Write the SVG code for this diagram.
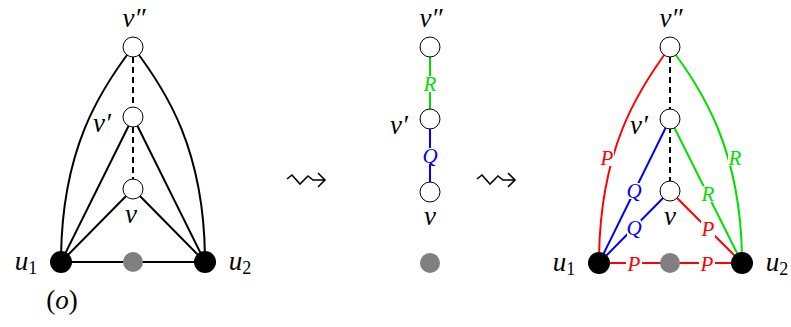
<svg xmlns="http://www.w3.org/2000/svg" width="791" height="327" viewBox="0 0 791 327">
<defs>
<style>
.e{fill:none;stroke-width:2}
.k{stroke:#000}
.r{stroke:#ff0000}
.g{stroke:#00e000}
.b{stroke:#0000ff}
.d{stroke-dasharray:6,4}
.o{fill:#fff;stroke:#000;stroke-width:1}
.f{fill:#000}
.gr{fill:#808080}
.t{font-family:'Liberation Serif',serif;font-style:italic;font-size:27px;fill:#000;text-anchor:middle}
.s{font-family:'Liberation Serif',serif;font-style:italic;font-size:21px;text-anchor:middle}
.bg{fill:#fff}
.sq{fill:none;stroke:#000;stroke-width:1.6}
</style>
</defs>
<g id="connectors">
<path class="e k" d="M61,262 C61,150 100,90 133,47"/>
<path class="e k" d="M205,262 C205,150 166,90 133,47"/>
<path class="e k d" d="M133,47 L133,189"/>
<path class="e k" d="M61,262 L133,117 M61,262 L133,189 M205,262 L133,117 M205,262 L133,189 M61,262 L205,262"/>
<path class="e g" d="M430,47 L430,119"/>
<path class="e b" d="M430,119 L430,192"/>
<path class="e r" d="M599,263 C599,150 638,90 670,47"/>
<path class="e g" d="M742,263 C742,150 702,90 670,47"/>
<path class="e k d" d="M670,47 L670,191"/>
<path class="e b" d="M599,263 L670,119 M599,263 L670,191"/>
<path class="e g" d="M742,263 L670,119"/>
<path class="e r" d="M742,263 L670,191 M599,263 L742,263"/>
<g id="edge-labels">
<rect class="bg" x="423" y="76" width="14" height="16"/><text class="s" x="430" y="91" fill="#00e000">R</text>
<rect class="bg" x="423" y="148" width="14" height="16"/><text class="s" x="430" y="163" fill="#0000ff">Q</text>
<rect class="bg" x="600" y="150" width="14" height="16"/><text class="s" x="607" y="165" fill="#ff0000">P</text>
<rect class="bg" x="728" y="150" width="14" height="16"/><text class="s" x="735" y="165" fill="#00e000">R</text>
<rect class="bg" x="627" y="183" width="14" height="16"/><text class="s" x="634" y="198" fill="#0000ff">Q</text>
<rect class="bg" x="627" y="220" width="14" height="16"/><text class="s" x="634" y="235" fill="#0000ff">Q</text>
<rect class="bg" x="701" y="186" width="14" height="16"/><text class="s" x="708" y="201" fill="#00e000">R</text>
<rect class="bg" x="701" y="221" width="14" height="16"/><text class="s" x="708" y="236" fill="#ff0000">P</text>
<rect class="bg" x="626" y="256" width="16" height="16"/><text class="s" x="634" y="271" fill="#ff0000">P</text>
<rect class="bg" x="699" y="256" width="16" height="16"/><text class="s" x="707" y="271" fill="#ff0000">P</text>
</g>
<path class="sq" d="M287,179 L292,175 L300,184 L308,176 L313,180 L325,180 M318,173 L325,180 L318,187"/>
<path class="sq" d="M477,179 L482,175 L490,184 L498,176 L503,180 L515,180 M508,173 L515,180 L508,187"/>
</g>
<g id="left-vpp"><circle class="o" cx="133" cy="47" r="10"/><text class="t" x="134" y="27">v″</text></g>
<g id="left-vp"><circle class="o" cx="133" cy="117" r="10"/><text class="t" x="102" y="132">v′</text></g>
<g id="left-v"><circle class="o" cx="133" cy="189" r="10"/><text class="t" x="131" y="223">v</text></g>
<g id="left-u1"><circle class="f" cx="61" cy="262" r="11"/><text class="t" x="26" y="270">u<tspan font-style="normal" font-size="18" dy="4">1</tspan></text></g>
<g id="left-u2"><circle class="f" cx="205" cy="262" r="11"/><text class="t" x="240" y="270">u<tspan font-style="normal" font-size="18" dy="4">2</tspan></text></g>
<g id="left-gray"><circle class="gr" cx="133" cy="262" r="10"/></g>
<g id="label-o"><text class="t" x="62" y="309" style="font-style:normal">(<tspan font-style="italic">o</tspan>)</text></g>

<g id="mid-vpp"><circle class="o" cx="430" cy="47" r="10"/><text class="t" x="431" y="27">v″</text></g>
<g id="mid-vp"><circle class="o" cx="430" cy="119" r="10"/><text class="t" x="399" y="134">v′</text></g>
<g id="mid-v"><circle class="o" cx="430" cy="192" r="10"/><text class="t" x="430" y="225">v</text></g>
<g id="mid-gray"><circle class="gr" cx="430" cy="263" r="10"/></g>

<g id="right-vpp"><circle class="o" cx="670" cy="47" r="10"/><text class="t" x="671" y="27">v″</text></g>
<g id="right-vp"><circle class="o" cx="670" cy="119" r="10"/><text class="t" x="639" y="134">v′</text></g>
<g id="right-v"><circle class="o" cx="670" cy="191" r="10"/><text class="t" x="670" y="225">v</text></g>
<g id="right-u1"><circle class="f" cx="599" cy="263" r="11"/><text class="t" x="564" y="271">u<tspan font-style="normal" font-size="18" dy="4">1</tspan></text></g>
<g id="right-u2"><circle class="f" cx="742" cy="263" r="11"/><text class="t" x="777" y="271">u<tspan font-style="normal" font-size="18" dy="4">2</tspan></text></g>
<g id="right-gray"><circle class="gr" cx="670" cy="263" r="10"/></g>
</svg>
